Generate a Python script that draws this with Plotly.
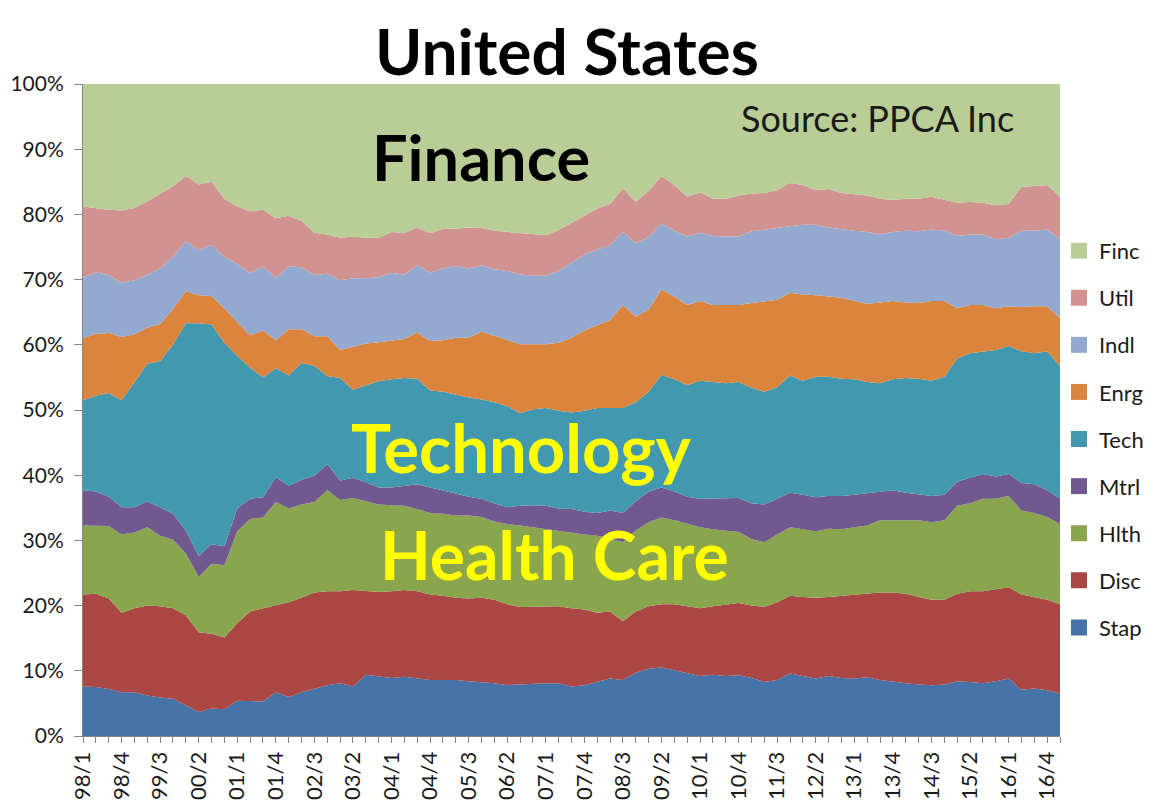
import plotly.graph_objects as go

quarters = ["98/1","98/2","98/3","98/4","99/1","99/2","99/3","99/4",
            "00/1","00/2","00/3","00/4","01/1","01/2","01/3","01/4",
            "02/1","02/2","02/3","02/4","03/1","03/2","03/3","03/4",
            "04/1","04/2","04/3","04/4","05/1","05/2","05/3","05/4",
            "06/1","06/2","06/3","06/4","07/1","07/2","07/3","07/4",
            "08/1","08/2","08/3","08/4","09/1","09/2","09/3","09/4",
            "10/1","10/2","10/3","10/4","11/1","11/2","11/3","11/4",
            "12/1","12/2","12/3","12/4","13/1","13/2","13/3","13/4",
            "14/1","14/2","14/3","14/4","15/1","15/2","15/3","15/4",
            "16/1","16/2","16/3","16/4","17/1"]

stap = [7.6, 7.5, 7.2, 6.7, 6.7, 6.2, 5.9, 5.7, 4.7, 3.7, 4.2, 4.1, 5.4, 5.4, 5.3, 6.7, 6.0, 6.7, 7.3, 7.8, 8.1, 7.6, 9.4, 9.2, 8.9, 9.1,
        8.9, 8.6, 8.6, 8.6, 8.4, 8.3, 8.1, 7.8, 7.9, 8.1, 8.1, 8.1, 7.6, 7.8, 8.3, 8.8, 8.6, 9.7, 10.3, 10.5, 10.1, 9.6, 9.2, 9.4, 9.2, 9.3,
        8.9, 8.3, 8.6, 9.6, 9.2, 8.8, 9.2, 8.9, 8.8, 9.0, 8.6, 8.3, 8.1, 7.9, 7.8, 7.9, 8.4, 8.3, 8.1, 8.4, 8.8, 7.1, 7.3, 7.0, 6.5]
disc = [14.1, 14.3, 13.9, 12.2, 12.9, 13.8, 14.0, 13.9, 13.8, 12.2, 11.5, 11.0, 11.9, 13.7, 14.3, 13.3, 14.5, 14.5, 14.7, 14.4, 14.1, 14.8, 12.8, 12.9, 13.3, 13.3,
        13.3, 13.1, 12.9, 12.6, 12.7, 12.9, 12.8, 12.4, 11.9, 11.7, 11.8, 11.8, 12.0, 11.6, 10.6, 10.3, 9.0, 9.4, 9.6, 9.7, 10.1, 10.3, 10.4, 10.5, 11.0, 11.1,
        11.1, 11.5, 11.9, 11.9, 12.1, 12.4, 12.1, 12.6, 12.9, 12.8, 13.4, 13.7, 13.7, 13.4, 13.1, 13.0, 13.4, 13.9, 14.1, 14.1, 14.0, 14.6, 14.0, 13.9, 13.7]
hlth = [10.6, 10.5, 11.1, 12.0, 11.6, 12.0, 10.8, 10.5, 9.5, 8.5, 10.7, 11.1, 14.1, 14.2, 13.9, 15.9, 14.4, 14.3, 13.9, 15.5, 14.0, 14.1, 13.8, 13.4, 13.2, 12.9,
        12.6, 12.5, 12.6, 12.6, 12.7, 12.4, 12.0, 12.3, 12.5, 12.2, 11.8, 11.6, 11.6, 11.5, 11.8, 11.2, 12.1, 12.4, 12.9, 13.3, 12.9, 12.6, 12.4, 11.8, 11.3, 10.9,
        10.2, 9.9, 10.4, 10.5, 10.4, 10.2, 10.5, 10.2, 10.3, 10.5, 11.1, 11.1, 11.3, 11.8, 11.9, 12.2, 13.5, 13.5, 14.2, 13.9, 14.0, 12.9, 12.9, 12.7, 12.3]
mtrl = [5.4, 5.2, 4.5, 4.2, 3.9, 4.0, 4.4, 4.0, 3.5, 3.2, 3.0, 2.9, 3.5, 3.1, 3.1, 3.8, 3.5, 3.8, 4.0, 4.0, 3.0, 3.1, 2.9, 2.6, 2.7, 3.0,
        3.8, 3.9, 3.6, 3.4, 2.9, 2.8, 2.8, 2.6, 3.0, 3.4, 3.6, 3.4, 3.6, 3.5, 3.5, 4.3, 4.5, 4.5, 4.7, 4.6, 4.4, 4.2, 4.4, 4.7, 4.9, 5.2,
        5.5, 5.8, 5.5, 5.3, 5.3, 5.2, 5.0, 5.1, 5.0, 4.9, 4.4, 4.6, 4.2, 3.9, 4.0, 3.9, 3.7, 3.9, 3.8, 3.4, 3.4, 4.2, 4.4, 4.1, 3.9]
tech = [13.8, 14.7, 15.9, 16.4, 19.1, 21.1, 22.4, 25.9, 31.8, 35.7, 33.7, 31.2, 23.4, 20.1, 18.4, 16.7, 16.9, 17.9, 16.9, 13.5, 15.7, 13.5, 14.9, 16.3, 16.6, 16.6,
        16.2, 14.9, 15.1, 15.1, 15.2, 15.2, 15.5, 15.5, 14.2, 14.7, 15.0, 15.0, 14.8, 15.5, 16.1, 15.7, 16.1, 15.2, 15.3, 17.3, 17.2, 17.1, 18.1, 17.9, 17.7, 17.8,
        17.7, 17.3, 17.1, 18.0, 17.5, 18.5, 18.3, 18.0, 17.7, 17.1, 16.6, 17.0, 17.6, 17.8, 17.7, 18.1, 18.9, 19.1, 18.8, 19.4, 19.6, 20.2, 20.1, 21.3, 20.3]
enrg = [9.5, 9.5, 9.2, 9.7, 7.4, 5.5, 5.7, 5.5, 4.9, 4.3, 4.4, 5.3, 5.2, 5.0, 7.2, 4.3, 7.1, 5.2, 4.5, 6.1, 4.3, 6.6, 6.4, 6.0, 6.0, 6.0,
        7.1, 7.6, 7.9, 8.8, 9.2, 10.4, 10.2, 10.1, 10.6, 10.0, 9.8, 10.4, 11.5, 12.3, 12.7, 13.5, 15.8, 13.1, 12.6, 13.1, 12.7, 12.3, 12.2, 11.8, 12.0, 11.8,
        13.0, 13.9, 13.4, 12.7, 13.2, 12.5, 12.3, 12.4, 12.0, 12.0, 12.4, 12.0, 11.6, 11.6, 12.2, 11.6, 7.7, 7.4, 7.1, 6.4, 6.1, 6.8, 7.2, 6.9, 7.4]
indl = [9.3, 9.4, 8.9, 8.3, 8.3, 8.1, 8.5, 8.0, 7.7, 6.9, 7.8, 7.9, 8.9, 9.5, 9.8, 9.5, 9.6, 9.5, 9.4, 9.6, 10.7, 10.5, 10.0, 10.0, 10.3, 9.9,
        10.3, 10.5, 11.0, 11.0, 10.6, 10.2, 10.2, 10.6, 10.7, 10.5, 10.5, 11.0, 11.5, 11.6, 11.6, 11.5, 11.2, 11.3, 11.1, 10.1, 10.1, 10.5, 10.5, 10.6, 10.5, 10.5,
        11.0, 11.0, 11.0, 10.2, 10.7, 10.8, 10.6, 10.5, 10.8, 11.0, 10.4, 10.6, 11.0, 11.0, 11.0, 10.8, 11.1, 10.8, 10.8, 10.6, 10.5, 11.7, 11.6, 11.8, 12.1]
util = [10.9, 9.8, 10.0, 11.1, 11.1, 11.3, 11.5, 10.8, 10.0, 10.1, 9.7, 8.9, 8.8, 9.5, 8.7, 9.2, 7.8, 7.1, 6.5, 6.0, 6.5, 6.4, 6.2, 6.0, 6.3, 6.3,
        5.8, 6.0, 6.1, 5.7, 6.3, 5.7, 5.9, 6.0, 6.3, 6.3, 6.2, 6.3, 6.1, 6.0, 6.3, 6.3, 6.7, 6.3, 7.1, 7.3, 7.0, 6.1, 6.2, 5.7, 5.8, 6.3,
        5.8, 5.6, 5.8, 6.6, 6.1, 5.3, 5.9, 5.6, 5.6, 5.6, 5.5, 4.9, 4.9, 5.0, 5.0, 4.7, 5.1, 5.0, 4.9, 5.2, 5.2, 6.7, 6.9, 6.8, 6.5]
finc = [18.8, 19.1, 19.3, 19.4, 19.0, 18.0, 16.8, 15.7, 14.1, 15.4, 15.0, 17.6, 18.8, 19.5, 19.3, 20.6, 20.2, 21.0, 22.8, 23.1, 23.6, 23.4, 23.6, 23.6, 22.7, 22.9,
        22.0, 22.9, 22.2, 22.2, 22.0, 22.1, 22.5, 22.7, 22.9, 23.1, 23.2, 22.4, 21.3, 20.2, 19.1, 18.4, 16.0, 18.1, 16.4, 14.1, 15.5, 17.3, 16.6, 17.6, 17.6, 17.1,
        16.8, 16.7, 16.3, 15.2, 15.5, 16.3, 16.1, 16.7, 16.9, 17.1, 17.6, 17.8, 17.6, 17.6, 17.3, 17.8, 18.2, 18.1, 18.2, 18.6, 18.4, 15.8, 15.6, 15.5, 17.3]

series_names = ["Stap", "Disc", "Hlth", "Mtrl", "Tech", "Enrg", "Indl", "Util", "Finc"]
series_values = [stap, disc, hlth, mtrl, tech, enrg, indl, util, finc]
series_colors = ["#4572A7", "#AA4643", "#89A54E", "#71588F", "#4198AF",
                 "#DB843D", "#93A9CF", "#D19392", "#B9CD96"]

tick_text = [q if i % 3 == 0 else "" for i, q in enumerate(quarters)]

fig = go.Figure()
for name, vals, col in zip(series_names, series_values, series_colors):
    fig.add_trace(go.Scatter(
        x=quarters, y=vals, name=name, mode="lines",
        stackgroup="one", groupnorm="percent",
        line=dict(width=0, color=col), fillcolor=col,
        showlegend=False, hoverinfo="skip"))

# legend entries (square swatches), top-to-bottom Finc ... Stap
for name, col in reversed(list(zip(series_names, series_colors))):
    fig.add_trace(go.Scatter(
        x=[None], y=[None], name=name, mode="markers",
        marker=dict(symbol="square", size=16, color=col),
        legendgroup=name, showlegend=True))

# page body has an 8px offset; work in page pixels
OFF = 8
FW, FH = 1171 - OFF, 806 - OFF
L, R, T, B = 83, 1060, 84.3, 735.7
W, H = R - L, B - T

def px(x):
    return (x - L) / W

def py(y):
    return (B - y) / H

fig.update_layout(
    width=FW, height=FH,
    margin=dict(l=L - OFF, r=FW - (R - OFF), t=T - OFF, b=FH - (B - OFF), pad=0, autoexpand=False),
    paper_bgcolor="white", plot_bgcolor="white",
    font=dict(family="Lato, 'Open Sans', sans-serif", color="#1a1a1a"),
    showlegend=True,
    legend=dict(x=px(1059), y=py(230), xanchor="left", yanchor="top",
                traceorder="grouped", tracegroupgap=15.5,
                font=dict(size=22, color="#1a1a1a"), itemwidth=30,
                bgcolor="rgba(0,0,0,0)"),
    xaxis=dict(type="category", range=[0, len(quarters) - 1],
               tickmode="array", tickvals=quarters, ticktext=tick_text,
               tickangle=-90, ticks="outside", ticklen=6, tickcolor="#868686",
               showline=True, linecolor="#868686", linewidth=1,
               showgrid=False, zeroline=False, automargin=False,
               tickfont=dict(size=22, color="#1a1a1a")),
    yaxis=dict(range=[0, 100], tickmode="array",
               tickvals=[0, 10, 20, 30, 40, 50, 60, 70, 80, 90, 100],
               ticktext=["0%", "10%", "20%", "30%", "40%", "50%", "60%", "70%", "80%", "90%", "100%"],
               ticks="outside", ticklen=8, tickcolor="#868686",
               showline=True, linecolor="#868686", linewidth=1,
               showgrid=False, zeroline=False, automargin=False,
               ticklabelstandoff=6,
               tickfont=dict(size=21, color="#1a1a1a")),
)

fig.add_annotation(text="<b>United States</b>", xref="paper", yref="paper",
                   x=px(567), y=py(10), showarrow=False,
                   font=dict(size=64, color="black"), xanchor="center", yanchor="top")
fig.add_annotation(text="<b>Finance</b>", xref="paper", yref="paper",
                   x=px(481), y=py(157), showarrow=False,
                   font=dict(size=63, color="black"), xanchor="center", yanchor="middle")
fig.add_annotation(text="Source: PPCA Inc", xref="paper", yref="paper",
                   x=px(877), y=py(118), showarrow=False,
                   font=dict(size=36, color="#1a1a1a"), xanchor="center", yanchor="middle")
fig.add_annotation(text="<b>Technology</b>", xref="paper", yref="paper",
                   x=px(521), y=py(447), showarrow=False,
                   font=dict(size=67, color="#FFFF00"), xanchor="center", yanchor="middle")
fig.add_annotation(text="<b>Health Care</b>", xref="paper", yref="paper",
                   x=px(554), y=py(554), showarrow=False,
                   font=dict(size=66, color="#FFFF00"), xanchor="center", yanchor="middle")

fig.write_html("out.html")
